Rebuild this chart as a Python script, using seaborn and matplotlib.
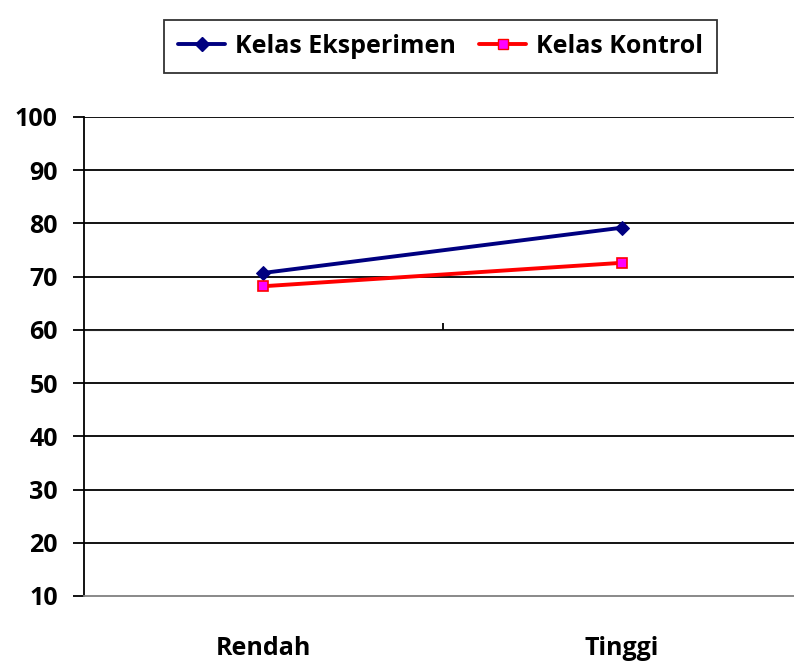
import pandas as pd
import seaborn as sns
import matplotlib.pyplot as plt

# data
kategori = ["Rendah", "Tinggi"]
eksperimen = [70.7, 79.2]
kontrol = [68.2, 72.6]
seri = ["Kelas Eksperimen", "Kelas Kontrol"]

df = pd.DataFrame({
    "kategori": kategori * 2,
    "x": [0, 1] * 2,
    "nilai": eksperimen + kontrol,
    "kelas": [seri[0]] * 2 + [seri[1]] * 2,
})

sns.set_style("white")
plt.rcParams["font.family"] = ["Open Sans", "DejaVu Sans"]
plt.rcParams["font.weight"] = "bold"
plt.rcParams["text.color"] = "black"
plt.rcParams["xtick.color"] = "black"
plt.rcParams["ytick.color"] = "black"

fig = plt.figure(figsize=(7.94, 6.62), dpi=100)
ax = fig.add_axes([0.106, 0.0997, 0.894, 0.7236])

sns.lineplot(data=df, x="x", y="nilai", hue="kelas", style="kelas",
             palette={seri[0]: "#000080", seri[1]: "#ff0000"},
             markers={seri[0]: "D", seri[1]: "s"}, dashes=False,
             linewidth=2.8, markersize=7.5, ax=ax, legend=False)
# marker colours like Excel: navy diamond, magenta square with red edge
ax.lines[0].set_markerfacecolor("#000080")
ax.lines[0].set_markeredgecolor("#000080")
ax.lines[1].set_markerfacecolor("#ff00ff")
ax.lines[1].set_markeredgecolor("#ff0000")
ax.lines[1].set_markeredgewidth(1.2)

ax.set_xlim(-0.5, 1.48)
ax.set_ylim(10, 100)
ax.set_yticks(range(10, 101, 10))
ax.set_xticks([0, 1])
ax.set_xticklabels(kategori)
ax.set_xlabel("")
ax.set_ylabel("")

for y in range(20, 101, 10):
    ax.axhline(y, color="black", linewidth=1.3, zorder=0)

for s in ["top", "right"]:
    ax.spines[s].set_visible(False)
ax.spines["bottom"].set_color("#808080")
ax.spines["bottom"].set_linewidth(1.3)
ax.spines["left"].set_color("black")
ax.spines["left"].set_linewidth(1.3)

ax.tick_params(axis="y", direction="out", length=8, width=1.3, pad=11,
               labelsize=18, left=True, color="black", labelcolor="black")
ax.tick_params(axis="x", length=0, pad=29, labelsize=18, labelcolor="black")
for t in ax.get_xticklabels() + ax.get_yticklabels():
    t.set_fontweight("bold")

# horizontal axis crossing at 60, with its category divider tick
sec = ax.secondary_xaxis((60 - 10) / 90)
sec.set_xticks([0.5])
sec.set_xticklabels([""])
sec.tick_params(direction="out", length=5, width=1.3, color="black")
sec.spines["bottom"].set_visible(False)

handles = [
    plt.Line2D([], [], color="#000080", linewidth=2.8, marker="D",
               markersize=7.5, markerfacecolor="#000080"),
    plt.Line2D([], [], color="#ff0000", linewidth=2.8, marker="s",
               markersize=7.5, markerfacecolor="#ff00ff",
               markeredgecolor="#ff0000"),
]
leg = fig.legend(handles, seri, loc="upper center", ncol=2,
                 bbox_to_anchor=(0.555, 0.988), frameon=True, fancybox=False,
                 edgecolor="black", prop={"size": 18, "weight": "bold"},
                 handlelength=1.9, handletextpad=0.4, columnspacing=0.9,
                 borderpad=0.55)
leg.get_frame().set_linewidth(1.3)
for t in leg.get_texts():
    t.set_color("black")

fig.savefig("out.png", dpi=100)
